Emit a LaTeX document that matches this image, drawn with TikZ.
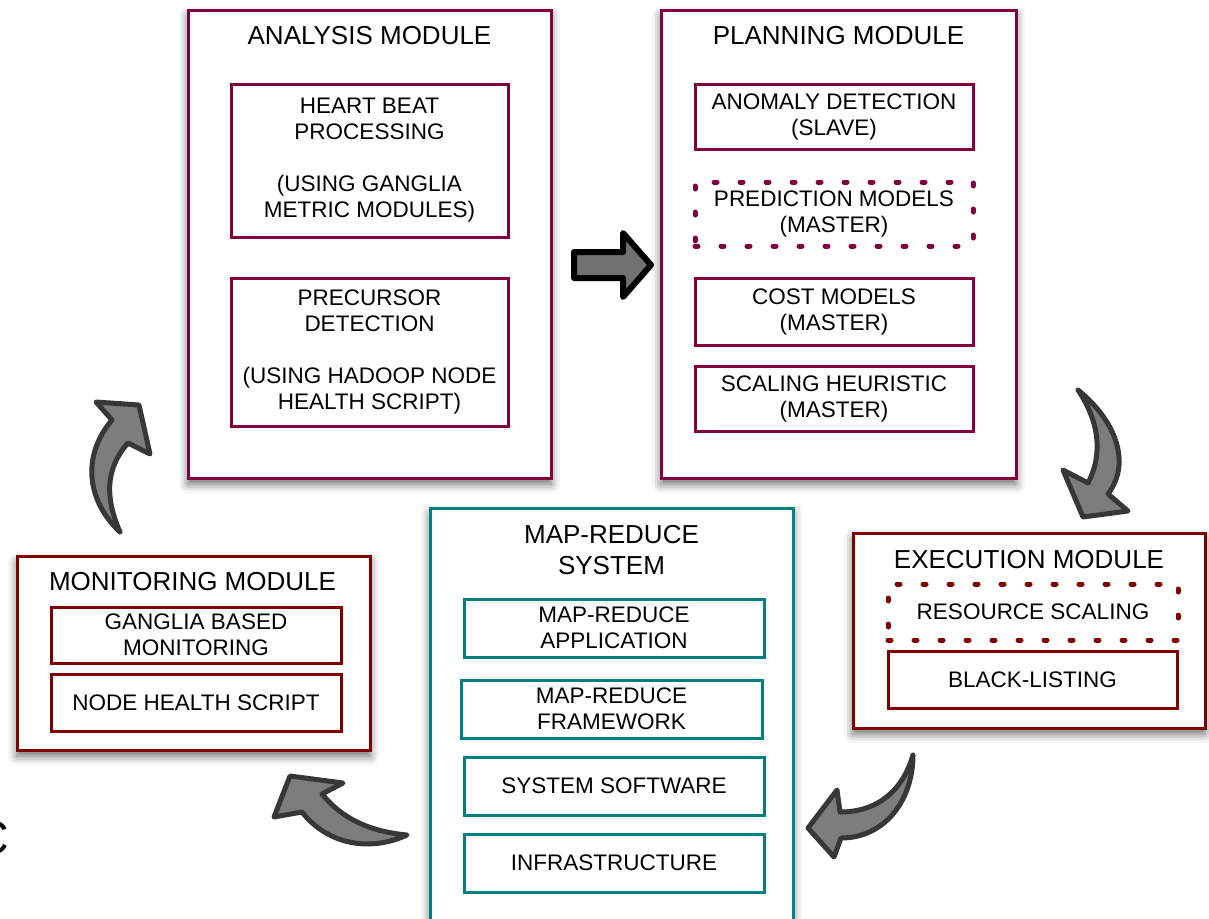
\documentclass[tikz,border=0pt]{standalone}
\usepackage{fontspec}
\setmainfont{Liberation Sans}
\usetikzlibrary{shadows.blur}

\definecolor{modmag}{RGB}{128,0,64}
\definecolor{modred}{RGB}{128,0,0}
\definecolor{modteal}{RGB}{0,128,128}
\definecolor{arrowfill}{RGB}{125,125,125}
\definecolor{arrowedge}{RGB}{55,55,55}

\tikzset{
	modbox/.style={draw,fill=white,line width=3pt,inner sep=0,
		blur shadow={shadow xshift=0pt,shadow yshift=-6pt,shadow blur radius=9pt,shadow opacity=60}},
	modtitle/.style={align=center,inner sep=0,font=\fontsize{26}{31}\selectfont},
	subbox/.style={draw,line width=3pt,inner sep=0,align=center,font=\fontsize{22.5}{26}\selectfont},
	dotbox/.style={subbox,line width=5pt,line cap=round,dash pattern=on 3pt off 23pt},
	bendarrow/.style={fill=arrowfill,draw=arrowedge,line width=5pt,line join=round}
}

\begin{document}
\begin{tikzpicture}[x=1pt,y=-1pt]
	\useasboundingbox (0,0) rectangle (1209,918);
	\node[font=\fontsize{48}{48}\selectfont,inner sep=0] (cut) at (-8,838) {C};

	% analysis
	\node[modbox,draw=modmag,minimum width=363,minimum height=468] (ana) at (369.5,244) {};
	\node[modtitle] (anat) at (369.5,36) {ANALYSIS MODULE};
	\node[subbox,draw=modmag,minimum width=277,minimum height=153] (hb) at (369.5,160.5) {HEART BEAT\\PROCESSING\\[26pt](USING GANGLIA\\METRIC MODULES)};
	\node[subbox,draw=modmag,minimum width=277,minimum height=148] (pre) at (369.5,352) {PRECURSOR\\DETECTION\\[26pt](USING HADOOP NODE\\HEALTH SCRIPT)};

	% planning
	\node[modbox,draw=modmag,minimum width=355,minimum height=468] (plan) at (838.5,244) {};
	\node[modtitle] (plant) at (838.5,36) {PLANNING MODULE};
	\node[subbox,draw=modmag,minimum width=278,minimum height=65] (ano) at (834,116.5) {ANOMALY DETECTION\\(SLAVE)};
	\node[dotbox,draw=modmag,minimum width=278,minimum height=64] (pred) at (834,214) {PREDICTION MODELS\\(MASTER)};
	\node[subbox,draw=modmag,minimum width=278,minimum height=67] (cost) at (834,311.5) {COST MODELS\\(MASTER)};
	\node[subbox,draw=modmag,minimum width=278,minimum height=65] (heur) at (834,398.5) {SCALING HEURISTIC\\(MASTER)};

	% map-reduce
	\node[modbox,draw=modteal,minimum width=363,minimum height=424] (mr) at (611.5,720) {};
	\node[modtitle] (mrt) at (611.5,550.5) {MAP-REDUCE\\SYSTEM};
	\node[subbox,draw=modteal,minimum width=300,minimum height=58] (app) at (614,628) {MAP-REDUCE\\APPLICATION};
	\node[subbox,draw=modteal,minimum width=301,minimum height=58] (fw) at (611.5,709) {MAP-REDUCE\\FRAMEWORK};
	\node[subbox,draw=modteal,minimum width=300,minimum height=58] (sys) at (614,786) {SYSTEM SOFTWARE};
	\node[subbox,draw=modteal,minimum width=300,minimum height=58] (infra) at (614,863) {INFRASTRUCTURE};

	% execution
	\node[modbox,draw=modred,minimum width=352,minimum height=195] (exe) at (1029,630.5) {};
	\node[modtitle] (exet) at (1029,560) {EXECUTION MODULE};
	\node[dotbox,draw=modred,minimum width=290,minimum height=56] (res) at (1033,612) {RESOURCE SCALING};
	\node[subbox,draw=modred,minimum width=289,minimum height=57] (black) at (1032.5,679.5) {BLACK-LISTING};

	% monitoring
	\node[modbox,draw=modred,minimum width=353,minimum height=194] (mon) at (193.5,653) {};
	\node[modtitle] (mont) at (192.5,582) {MONITORING MODULE};
	\node[subbox,draw=modred,minimum width=290,minimum height=56] (gang) at (196,635) {GANGLIA BASED\\MONITORING};
	\node[subbox,draw=modred,minimum width=290,minimum height=57] (nhs) at (196,702.5) {NODE HEALTH SCRIPT};

	% arrows
	\draw[fill=arrowfill!90!black,draw=black,line width=6pt,line join=round]
		(574,252) -- (623,252) -- (623,233) -- (651,265) -- (623,297) -- (623,278) -- (574,278) -- cycle;
	\draw[bendarrow] (1078,390) .. controls (1115,420) and (1132,462) .. (1108,494)
		-- (1128,511) -- (1083,517) -- (1063,470) -- (1088,483)
		.. controls (1104,452) and (1098,420) .. cycle;
	\draw[bendarrow] (913,755) .. controls (913,800) and (885,838) .. (841,838)
		-- (834,857) -- (808,828) -- (837,790) -- (840,812)
		.. controls (878,812) and (903,790) .. cycle;
	\draw[bendarrow] (407,835) .. controls (370,852) and (328,845) .. (302,812)
		-- (274,817) -- (290,776) -- (343,783) -- (322,794)
		.. controls (345,822) and (375,832) .. cycle;
	\draw[bendarrow] (120,532) .. controls (86,500) and (82,455) .. (112,420)
		-- (96,402) -- (139,405) -- (150,454) -- (128,443)
		.. controls (104,470) and (106,500) .. cycle;
\end{tikzpicture}
\end{document}
